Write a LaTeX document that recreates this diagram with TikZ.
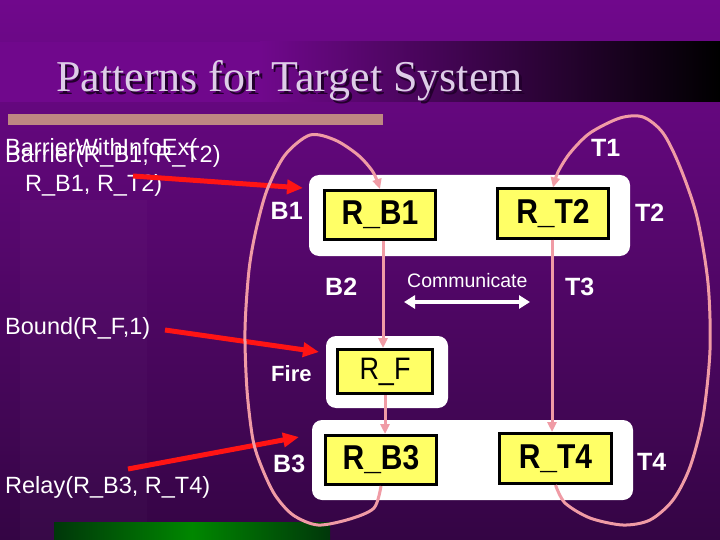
\documentclass[tikz,border=0pt]{standalone}
\usepackage{fontspec}
\usepackage{graphicx}
\setmainfont{Liberation Sans}
\newfontfamily\titleserif{Liberation Serif}
\usetikzlibrary{arrows.meta}
\definecolor{bgtop}{RGB}{112,8,140}
\definecolor{bgbot}{RGB}{52,5,68}
\definecolor{pinkc}{RGB}{240,155,165}
\definecolor{redc}{RGB}{255,20,20}
\definecolor{yel}{RGB}{255,255,102}
\definecolor{rulec}{RGB}{190,135,130}
\definecolor{lav}{RGB}{222,205,232}
\definecolor{shad}{RGB}{35,0,45}
\definecolor{gdark}{RGB}{0,55,10}
\definecolor{gbright}{RGB}{0,135,0}
\newcommand\boxtxt[1]{{\fontsize{30}{34}\selectfont\bfseries\scalebox{1}[1.15]{#1}}}
\tikzset{
  ybox/.style={draw=black, line width=3pt, fill=yel, inner sep=0pt, minimum width=111pt, minimum height=49pt},
  wbox/.style={fill=white, rounded corners=10pt, inner sep=0pt},
  lbl/.style={text=white, inner sep=0pt, anchor=base west, font=\fontsize{25}{30}\selectfont\bfseries},
  ltxt/.style={text=white, inner sep=0pt, anchor=base west, font=\fontsize{23.5}{28}\selectfont},
  pinkline/.style={draw=pinkc, line width=3pt, -{Triangle[length=10pt,width=9pt]}},
  redarrow/.style={draw=redc, line width=5pt, -{Triangle[length=16pt,width=14pt]}}
}
\begin{document}
\begin{tikzpicture}[x=1pt,y=-1pt]
\useasboundingbox (0,0) rectangle (720,540);
% background
\shade[top color=bgtop, bottom color=bgbot] (0,0) rectangle (720,540);
\fill[white, opacity=0.02] (20,200) rectangle (147,540);
% title band
\fill[bgtop] (0,42) rectangle (720,102);
\shade[left color=bgtop, right color=black] (260,42) rectangle (720,102);
\node[inner sep=0pt, anchor=base west, text=shad, font=\titleserif\fontsize{44}{48}\selectfont] (titleshadow) at (58.5,94.5) {Patterns for Target System};
\node[inner sep=0pt, anchor=base west, text=lav, font=\titleserif\fontsize{44}{48}\selectfont] (title) at (56,92) {Patterns for Target System};
% rule bar
\fill[rulec] (8,114) rectangle (383,125);
% green bar
\shade[left color=gdark, right color=gdark, middle color=gbright] (54,522) rectangle (330,540);
% containers
\node[wbox, minimum width=321pt, minimum height=81pt] (c1) at (469.5,215.5) {};
\node[wbox, minimum width=122pt, minimum height=72pt] (c2) at (387,372) {};
\node[wbox, minimum width=321pt, minimum height=80pt] (c3) at (472.5,460) {};
% yellow boxes
\node[ybox] (rb1) at (380,215) {\boxtxt{R\_B1}};
\node[ybox] (rt2) at (553,213.5) {\boxtxt{R\_T2}};
\node[ybox, minimum width=95pt, minimum height=44pt] (rf) at (385,371.5) {\fontsize{27}{30}\selectfont\scalebox{1}[1.15]{R\_F}};
\node[ybox] (rb3) at (381,460) {\boxtxt{R\_B3}};
\node[ybox, minimum width=112pt, minimum height=50pt] (rt4) at (555.5,458.5) {\boxtxt{R\_T4}};
% labels
\node[lbl] (lb1) at (270.5,220) {B1};
\node[lbl] (lt1) at (591,157) {T1};
\node[lbl] (lt2) at (635,222) {T2};
\node[lbl] (lb2) at (325,295) {B2};
\node[lbl] (lt3) at (565,295) {T3};
\node[lbl, font=\fontsize{22}{26}\selectfont\bfseries] (lfire) at (271,381) {Fire};
\node[lbl] (lb3) at (273,472) {B3};
\node[lbl] (lt4) at (637,470) {T4};
\node[ltxt, font=\fontsize{19.5}{23}\selectfont] (lcomm) at (407,287) {Communicate};
% left texts
\node[ltxt] (tbi) at (5,156) {BarrierWithInfoEx(};
\node[ltxt] (tbar) at (5,163) {Barrier(R\_B1, R\_T2)};
\node[ltxt] (tbar2) at (25,192) {R\_B1, R\_T2)};
\node[ltxt] (tbound) at (5,334) {Bound(R\_F,1)};
\node[ltxt] (trelay) at (5,493) {Relay(R\_B3, R\_T4)};
% communicate arrow
\coordinate (cl) at (404,302);
\coordinate (cr) at (530,302);
\draw[white, line width=4pt, {Triangle[length=11pt,width=13pt]}-{Triangle[length=11pt,width=13pt]}] (cl) -- (cr);
% red arrows
\coordinate (r1s) at (133,176);
\coordinate (r1e) at (303,188);
\coordinate (r2s) at (165,330);
\coordinate (r2e) at (319,352);
\coordinate (r3s) at (128,469);
\coordinate (r3e) at (299,437);
\draw[redarrow] (r1s) -- (r1e);
\draw[redarrow] (r2s) -- (r2e);
\draw[redarrow] (r3s) -- (r3e);
% pink connectors
\draw[pinkline] (rb1.south -| 383,0) -- (rf.north -| 383,0);
\draw[pinkline] (rf.south -| 385,0) -- (rb3.north -| 385,0);
\draw[pinkline] (rt2.south -| 552,0) -- (rt4.north -| 552,0);
\draw[pinkline] plot[smooth] coordinates {(rb3.south) (374,508) (350,519) (318,525) (293,515) (275,495) (262,468) (253,440) (247,390) (245,330) (249,270) (256,230) (267,190) (285,155) (310,135) (335,140) (358,155) (373,172) (rb1.north)};
\draw[pinkline] plot[smooth] coordinates {(rt4.south) (565,503) (590,518) (623,525) (650,520) (673,500) (690,467) (703,417) (710,350) (708,283) (697,217) (680,167) (663,133) (643,117) (620,118) (590,133) (570,153) (558,172) (rt2.north)};
\end{tikzpicture}
\end{document}
